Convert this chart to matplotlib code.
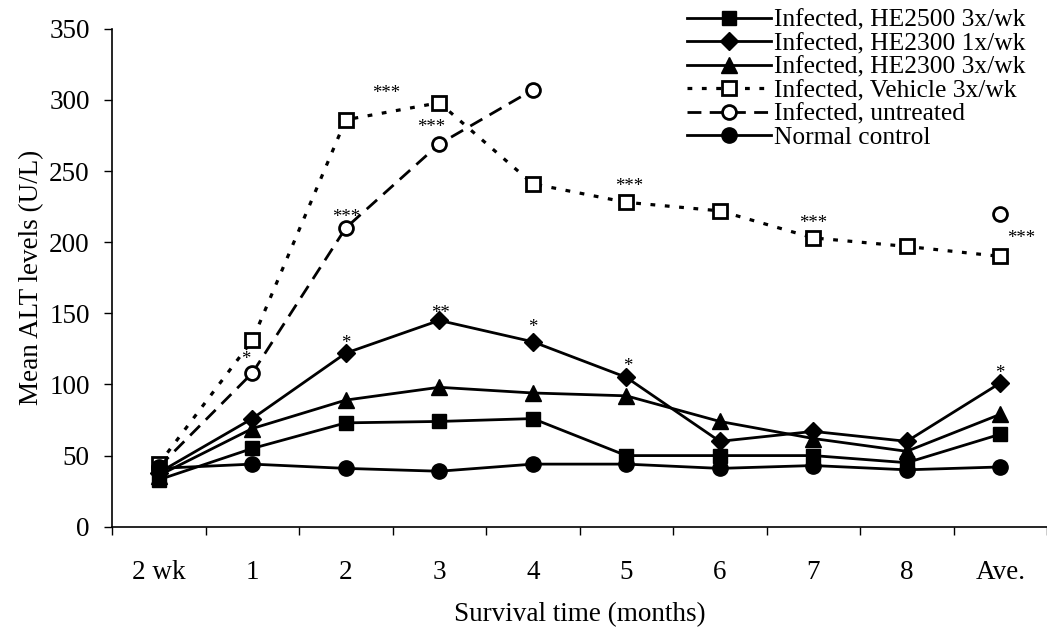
import numpy as np
import matplotlib
matplotlib.use("Agg")
import matplotlib.pyplot as plt

plt.rcParams['font.family'] = ['Liberation Serif', 'DejaVu Serif']

# ---------------------------------------------
# datos: ALT medio (U/L) por tiempo de supervivencia
# ---------------------------------------------
categorias = ["2 wk", "1", "2", "3", "4", "5", "6", "7", "8", "Ave."]

he2500_3x = [33, 55, 73, 74, 76, 50, 50, 50, 45, 65]
he2300_1x = [38, 76, 122, 145, 130, 105, 60, 67, 60, 101]
he2300_3x = [36, 69, 89, 98, 94, 92, 74, 62, 53, 79]
vehiculo_3x = [44, 131, 286, 298, 241, 228, 222, 203, 197, 190]
sin_tratar = [42, 108, 210, 269, 307, np.nan, np.nan, np.nan, np.nan, 220]
control = [41, 44, 41, 39, 44, 44, 41, 43, 40, 42]

# asteriscos de significancia: (serie, indice, texto)
significancia = [
    ("sin_tratar", 1, "*"),
    ("vehiculo", 2, "***"),
    ("sin_tratar", 2, "***"),
    ("sin_tratar", 3, "***"),
    ("he2300_1x", 2, "*"),
    ("he2300_1x", 3, "**"),
    ("he2300_1x", 4, "*"),
    ("he2300_1x", 5, "*"),
    ("vehiculo", 5, "***"),
    ("vehiculo", 7, "***"),
    ("vehiculo", 9, "***"),
    ("he2300_1x", 9, "*"),
]


def graficar():
    fig = plt.figure(figsize=(10.47, 6.34), dpi=100)
    ax = fig.add_axes([0.107, 0.1692, 0.893, 0.7855])

    x = np.arange(len(categorias))
    series = {
        "he2500": he2500_3x,
        "he2300_1x": he2300_1x,
        "he2300_3x": he2300_3x,
        "vehiculo": vehiculo_3x,
        "sin_tratar": sin_tratar,
        "control": control,
    }

    ax.plot(x, he2500_3x, color="black", lw=2.0, marker="s", ms=10.5,
            label="Infected, HE2500 3x/wk", zorder=3)
    ax.plot(x, he2300_1x, color="black", lw=2.0, marker="D", ms=9,
            label="Infected, HE2300 1x/wk", zorder=3)
    ax.plot(x, he2300_3x, color="black", lw=2.0, marker="^", ms=11.5,
            label="Infected, HE2300 3x/wk", zorder=3)
    ax.plot(x, vehiculo_3x, color="black", lw=2.3, ls=(0, (1.5, 3.0)),
            marker="s", ms=10, mfc="white", mec="black", mew=2.0,
            label="Infected, Vehicle 3x/wk", zorder=3)
    # sin tratar: la linea discontinua solo une los meses con datos
    ax.plot(x, sin_tratar, color="black", lw=2.0, ls=(0, (5, 3)),
            marker="o", ms=10, mfc="white", mec="black", mew=2.0,
            label="Infected, untreated", zorder=3)
    ax.plot(x, control, color="black", lw=2.0, marker="o", ms=11,
            label="Normal control", zorder=3)

    # asteriscos
    desplaz = {
        ("sin_tratar", 1): (-5, 4), ("vehiculo", 2): (29, 13),
        ("sin_tratar", 2): (0, 1.5), ("sin_tratar", 3): (-6, 5.5),
        ("he2300_1x", 2): (0, 1), ("he2300_1x", 3): (1, -1),
        ("he2300_1x", 4): (0, 4.5), ("he2300_1x", 5): (1, 2),
        ("vehiculo", 5): (2, 5.5), ("vehiculo", 7): (0, 4.5),
        ("vehiculo", 9): (15, 7), ("he2300_1x", 9): (0, 0.5),
    }
    for nombre, i, txt in significancia:
        dx, dy = desplaz[(nombre, i)]
        ax.annotate(txt, (x[i], series[nombre][i]), xytext=(dx, dy),
                    textcoords="offset points", ha="center", va="bottom",
                    fontsize=13.5)

    ax.set_xlim(-0.5, len(categorias) - 0.5)
    ax.set_ylim(0, 350)
    ax.set_yticks(np.arange(0, 351, 50))
    ax.set_xticks(x)
    ax.set_xticklabels(categorias)
    ax.set_xticks(np.arange(-0.5, len(categorias), 1), minor=True)
    ax.tick_params(axis="x", which="major", length=0, pad=24, labelsize=19.5)
    ax.tick_params(axis="x", which="minor", length=6, width=1, direction="out")
    ax.tick_params(axis="y", length=6, width=1, direction="out", pad=10,
                   labelsize=19.5)

    ax.spines["top"].set_visible(False)
    ax.spines["right"].set_visible(False)
    for s in ("left", "bottom"):
        ax.spines[s].set_linewidth(1.2)

    ax.set_xlabel("Survival time (months)", fontsize=19.5, labelpad=12)
    ax.set_ylabel("Mean ALT levels (U/L)", fontsize=19.5, labelpad=4)

    fig.legend(loc="upper left", bbox_to_anchor=(687 / 1047, 1 - 9 / 634),
               frameon=False, fontsize=18.4, handlelength=3.3,
               handletextpad=0.1, labelspacing=0.02, borderpad=0,
               borderaxespad=0, numpoints=1)

    fig.savefig("out.png", dpi=100)


if __name__ == "__main__":
    graficar()
